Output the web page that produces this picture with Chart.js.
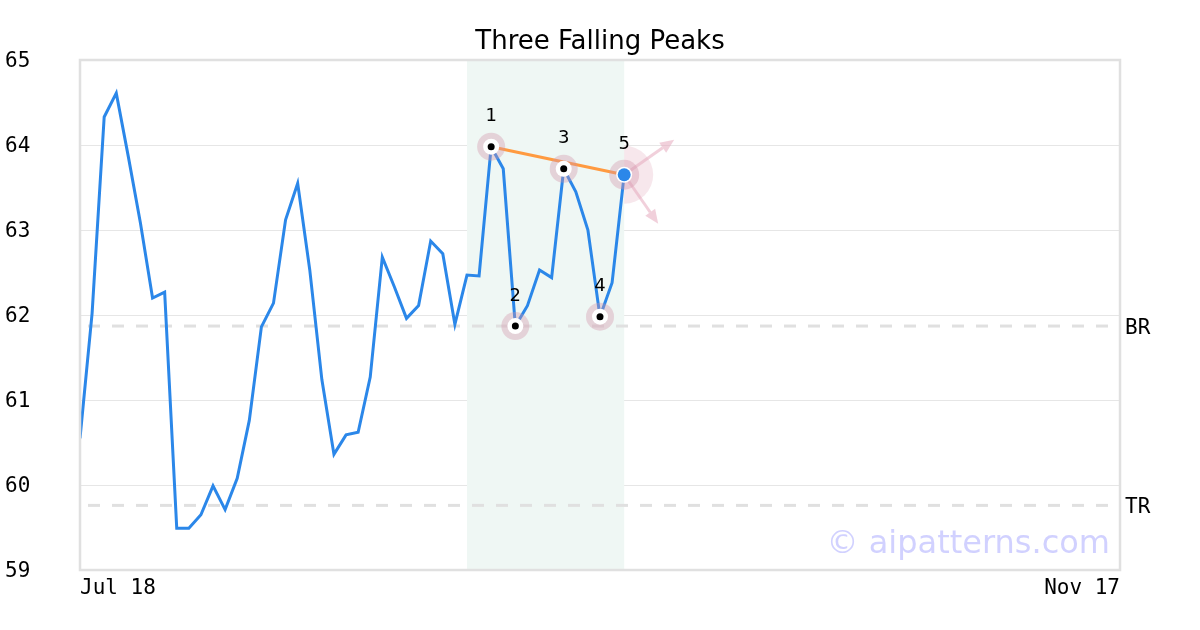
<!DOCTYPE html>
<html>
<head>
<meta charset="utf-8">
<script src="https://cdn.jsdelivr.net/npm/chart.js"></script>
<style>
  html, body { margin: 0; padding: 0; background: #fff; }
  #wrap { width: 1200px; height: 630px; }
</style>
</head>
<body>
<div id="wrap"><canvas id="chart"></canvas></div>
<script>
const chartTitle = 'Three Falling Peaks';
const xTickLabels = ['Jul 18', 'Nov 17'];
const dayCount = 86; // trading days from first to last tick
const yTicks = [59, 60, 61, 62, 63, 64, 65];

const prices = [
  60.55, 62.02, 64.33, 64.61, 63.86, 63.08, 62.20, 62.27, 59.49, 59.49,
  59.65, 59.99, 59.71, 60.08, 60.76, 61.86, 62.14, 63.12, 63.55, 62.53,
  61.24, 60.36, 60.59, 60.62, 61.27, 62.68, 62.33, 61.96, 62.11, 62.87,
  62.72, 61.89, 62.47, 62.46, 63.98, 63.72, 61.87, 62.11, 62.53, 62.44,
  63.72, 63.45, 63.00, 61.98, 62.38, 63.65
];

const pivotIdx = [34, 36, 40, 43, 45];
const pivotLabels = ['1', '2', '3', '4', '5'];
const peakIdx = [34, 40, 45];
const bandRange = [32, 45];
const levelNames = ['BR', 'TR'];
const levelValues = [61.87, 59.76];
const watermark = '\u00a9 aipatterns.com';

const lineColor = '#2b87e9';
const monoFont = '"DejaVu Sans Mono", monospace';
const sansFont = '"DejaVu Sans", sans-serif';

const patternPlugin = {
  id: 'pattern',
  beforeDatasetsDraw(chart) {
    const { ctx, chartArea: a, scales: { x, y } } = chart;
    ctx.save();
    // pattern band
    ctx.fillStyle = '#eff7f4';
    const bx0 = x.getPixelForValue(bandRange[0]);
    const bx1 = x.getPixelForValue(bandRange[1]);
    ctx.fillRect(bx0, a.top, bx1 - bx0, a.bottom - a.top);
    // level lines
    ctx.strokeStyle = '#e0e0e0';
    ctx.lineWidth = 3;
    ctx.setLineDash([12, 12]);
    ctx.lineDashOffset = -8;
    ctx.font = '21px ' + monoFont;
    ctx.fillStyle = '#000';
    ctx.textBaseline = 'middle';
    ctx.textAlign = 'left';
    levelValues.forEach((v, i) => {
      const py = y.getPixelForValue(v);
      ctx.beginPath();
      ctx.moveTo(a.left, py);
      ctx.lineTo(a.right, py);
      ctx.stroke();
      ctx.fillText(levelNames[i], a.right + 5, py + 2);
    });
    ctx.setLineDash([]);
    // watermark
    ctx.font = '32px ' + sansFont;
    ctx.fillStyle = 'rgba(190,190,255,0.7)';
    ctx.textAlign = 'right';
    ctx.textBaseline = 'alphabetic';
    ctx.fillText(watermark, a.right - 10, a.bottom - 17);
    ctx.restore();
  },
  afterDatasetsDraw(chart) {
    const { ctx, scales: { x, y } } = chart;
    ctx.save();
    // peak trend line
    ctx.strokeStyle = '#ff9a40';
    ctx.lineWidth = 3;
    ctx.beginPath();
    ctx.moveTo(x.getPixelForValue(peakIdx[0]), y.getPixelForValue(prices[peakIdx[0]]));
    const lastPeak = peakIdx[peakIdx.length - 1];
    ctx.lineTo(x.getPixelForValue(lastPeak), y.getPixelForValue(prices[lastPeak]));
    ctx.stroke();

    // breakout arrows and halo at last point
    const lx = x.getPixelForValue(lastPeak);
    const ly = y.getPixelForValue(prices[lastPeak]);
    ctx.fillStyle = 'rgba(225,160,180,0.25)';
    ctx.beginPath();
    ctx.moveTo(lx, ly);
    ctx.arc(lx, ly, 29, -Math.PI * 0.5, Math.PI * 0.5);
    ctx.closePath();
    ctx.fill();
    const arrows = [[50, -35], [34, 49]];
    ctx.strokeStyle = 'rgba(230,170,190,0.55)';
    ctx.fillStyle = 'rgba(230,170,190,0.55)';
    ctx.lineWidth = 3;
    arrows.forEach(([dx, dy]) => {
      const ang = Math.atan2(dy, dx);
      const ex = lx + dx, ey = ly + dy;
      const hl = 14, hw = 6;
      const baseX = ex - hl * Math.cos(ang), baseY = ey - hl * Math.sin(ang);
      ctx.beginPath();
      ctx.moveTo(lx, ly);
      ctx.lineTo(baseX, baseY);
      ctx.stroke();
      ctx.beginPath();
      ctx.moveTo(ex, ey);
      ctx.lineTo(baseX + hw * Math.sin(ang), baseY - hw * Math.cos(ang));
      ctx.lineTo(baseX - hw * Math.sin(ang), baseY + hw * Math.cos(ang));
      ctx.closePath();
      ctx.fill();
    });

    // pivot markers
    ctx.font = '18px ' + sansFont;
    ctx.textAlign = 'center';
    ctx.textBaseline = 'middle';
    pivotIdx.forEach((idx, i) => {
      const px = x.getPixelForValue(idx);
      const py = y.getPixelForValue(prices[idx]);
      const last = i === pivotIdx.length - 1;
      ctx.fillStyle = 'rgba(210,150,170,0.38)';
      ctx.beginPath();
      ctx.arc(px, py, last ? 15 : 14, 0, Math.PI * 2);
      ctx.fill();
      ctx.fillStyle = '#fff';
      ctx.beginPath();
      ctx.arc(px, py, 8, 0, Math.PI * 2);
      ctx.fill();
      ctx.fillStyle = last ? lineColor : '#000';
      ctx.beginPath();
      ctx.arc(px, py, last ? 6.5 : 3.5, 0, Math.PI * 2);
      ctx.fill();
      ctx.fillStyle = '#000';
      ctx.fillText(pivotLabels[i], px, py - 30);
    });
    ctx.restore();
  },
  afterDraw(chart) {
    const { ctx, chartArea: a } = chart;
    ctx.save();
    // frame
    ctx.strokeStyle = '#e0e0e0';
    ctx.lineWidth = 2.5;
    ctx.strokeRect(a.left, a.top, a.right - a.left, a.bottom - a.top);
    // title
    ctx.font = '26px ' + sansFont;
    ctx.fillStyle = '#000';
    ctx.textAlign = 'center';
    ctx.textBaseline = 'alphabetic';
    ctx.fillText(chartTitle, (a.left + a.right) / 2, 49);
    ctx.restore();
  }
};

new Chart(document.getElementById('chart'), {
  type: 'line',
  data: {
    datasets: [{
      data: prices.map((v, i) => ({ x: i, y: v })),
      borderColor: lineColor,
      borderWidth: 3,
      pointRadius: 0,
      tension: 0,
      fill: false
    }]
  },
  options: {
    responsive: true,
    maintainAspectRatio: false,
    animation: false,
    layout: { padding: { left: 5, right: 80, top: 60, bottom: 0 } },
    plugins: { legend: { display: false }, tooltip: { enabled: false }, title: { display: false } },
    scales: {
      x: {
        type: 'linear',
        min: 0,
        max: dayCount,
        grid: { display: false, drawTicks: false },
        border: { display: false },
        afterBuildTicks: (axis) => { axis.ticks = [{ value: 0 }, { value: dayCount }]; },
        afterFit: (axis) => { axis.height = 60; },
        ticks: {
          align: 'inner',
          maxRotation: 0,
          padding: 6,
          color: '#000',
          font: { family: monoFont, size: 21 },
          callback: (v) => v === 0 ? xTickLabels[0] : xTickLabels[1]
        }
      },
      y: {
        min: yTicks[0],
        max: yTicks[yTicks.length - 1],
        afterBuildTicks: (axis) => { axis.ticks = yTicks.map(v => ({ value: v })); },
        afterFit: (axis) => { axis.width = 75; },
        grid: { color: '#e6e6e6', lineWidth: 1, drawTicks: false },
        border: { display: false },
        ticks: {
          crossAlign: 'far',
          labelOffset: 2,
          color: '#000',
          font: { family: monoFont, size: 21 }
        }
      }
    }
  },
  plugins: [patternPlugin]
});
</script>
</body>
</html>
